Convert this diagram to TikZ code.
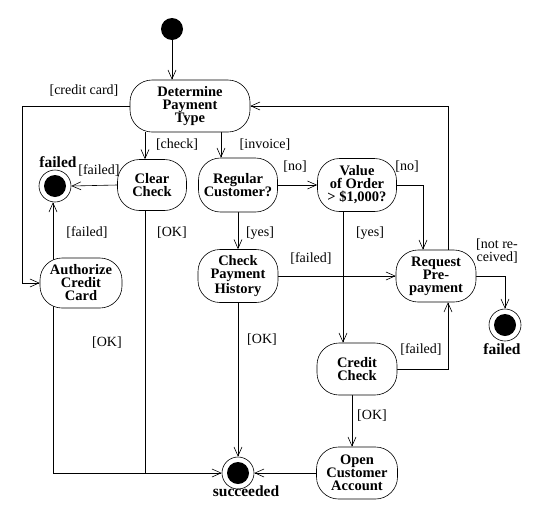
\documentclass[tikz,border=0pt]{standalone}
\usepackage{fontspec}
\setmainfont{Liberation Serif}
\usetikzlibrary{arrows.meta,backgrounds}
\begin{document}
\begin{tikzpicture}[x=1pt,y=-1pt,
 act/.style={draw, fill=white, rounded corners=22pt, align=center, inner sep=0pt, font=\bfseries\fontsize{14.5}{13}\selectfont, line width=0.6pt},
 lbl/.style={font=\fontsize{14}{13}\selectfont, inner sep=0pt},
 blbl/.style={font=\bfseries\fontsize{15.5}{14}\selectfont, inner sep=0pt},
 flow/.style={line width=0.6pt, -{Straight Barb[length=9pt,width=8pt]}},
 plain/.style={line width=0.6pt},
 startst/.style={circle, fill=black, minimum size=22pt, inner sep=0pt},
 endst/.style={circle, draw, fill=white, minimum size=32pt, inner sep=0pt, line width=0.6pt},
 dot/.style={fill=black},
]
\useasboundingbox (0,0) rectangle (538,517);
% states
\node[startst] (start) at (172,29) {};
\node[act, minimum width=120pt, minimum height=52pt] (det) at (190,106) {Determine\\Payment\\Type};
\node[act, minimum width=69pt, minimum height=51pt] (clear) at (152,185) {Clear\\Check};
\node[act, minimum width=79pt, minimum height=54pt] (reg) at (238,185) {Regular\\Customer?};
\node[act, minimum width=79pt, minimum height=53pt] (value) at (357,185) {Value\\of Order\\> \$1,000?};
\node[endst] (failL) at (55,186) {};
\node[act, minimum width=82pt, minimum height=50pt] (auth) at (81,283) {Authorize\\Credit\\Card};
\node[act, minimum width=80pt, minimum height=53pt] (check) at (238,276) {Check\\Payment\\History};
\node[act, minimum width=80pt, minimum height=52pt] (req) at (436,276) {Request\\Pre-\\payment};
\node[act, minimum width=80pt, minimum height=52pt] (credit) at (357,369) {Credit\\Check};
\node[act, minimum width=81pt, minimum height=52pt] (open) at (357,473) {Open\\Customer\\Account};
\node[endst] (succ) at (238,473) {};
\node[endst] (failR) at (505,325) {};
\fill[dot] (failL.center) circle (11pt);
\fill[dot] (succ.center) circle (11pt);
\fill[dot] (failR.center) circle (11pt);
% helper coordinates
\coordinate (xa) at (145,0);
\coordinate (xb) at (221,0);
\coordinate (xl) at (22,0);
\coordinate (xc) at (53,0);
\coordinate (xe) at (423,0);
\coordinate (xf) at (343,0);
\coordinate (xg) at (448,0);
\coordinate (xh) at (352,0);
\coordinate (bot) at (0,473);
% labels
\node[lbl] (l1) at (84,91) {[credit card]};
\node[lbl] (l2) at (177,145) {[check]};
\node[lbl] (l3) at (265,145) {[invoice]};
\node[blbl] (l4) at (58,162) {failed};
\node[lbl] (l5) at (99,171) {[failed]};
\node[lbl] (l6) at (87,233) {[failed]};
\node[lbl] (l7) at (172,233) {[OK]};
\node[lbl] (l8) at (107,343) {[OK]};
\node[lbl] (l9) at (260,233) {[yes]};
\node[lbl] (l10) at (295,167) {[no]};
\node[lbl] (l11) at (407,167) {[no]};
\node[lbl] (l12) at (370,233) {[yes]};
\node[lbl] (l13) at (311,259) {[failed]};
\node[lbl, align=right, anchor=east] (l14) at (518,251) {[not re-\\ceived]};
\node[lbl] (l15) at (262,340) {[OK]};
\node[lbl] (l16) at (421,350) {[failed]};
\node[blbl] (l17) at (502,349) {failed};
\node[lbl] (l18) at (372,416) {[OK]};
\node[blbl] (l19) at (246,491) {succeeded};
% connectors
\begin{pgfonlayer}{background}
\draw[flow] (start.south) -- (start.south |- det.north);
\draw[flow] (det.south -| xa) -- (clear.north -| xa);
\draw[flow] (det.south -| xb) -- (reg.north -| xb);
\draw[flow] (det.west) -- (det.west -| xl) |- (auth.west);
\draw[flow] (clear.west) -- (failL.east);
\draw[flow] (auth.center -| xc) -- (failL.south -| xc);
\draw[plain] (clear.center -| xa) -- (xa |- bot);
\draw[flow] (auth.center -| xc) -- (xc |- succ.west) -- (succ.west);
\draw[flow] (reg.south) -- (check.north);
\draw[flow] (reg.east) -- (value.west);
\draw[flow] (value.east) -| (req.north -| xe);
\draw[flow] (value.center -| xf) -- (credit.north -| xf);
\draw[flow] (check.east) -- (req.west);
\draw[flow] (check.south) -- (succ.north);
\draw[flow] (credit.east) -| (req.south -| xg);
\draw[flow] (credit.south -| xh) -- (open.north -| xh);
\draw[flow] (open.west) -- (succ.east);
\draw[flow] (req.north -| xg) |- (det.east);
\draw[flow] (req.east) -| (failR.north);
\end{pgfonlayer}
\end{tikzpicture}
\end{document}
